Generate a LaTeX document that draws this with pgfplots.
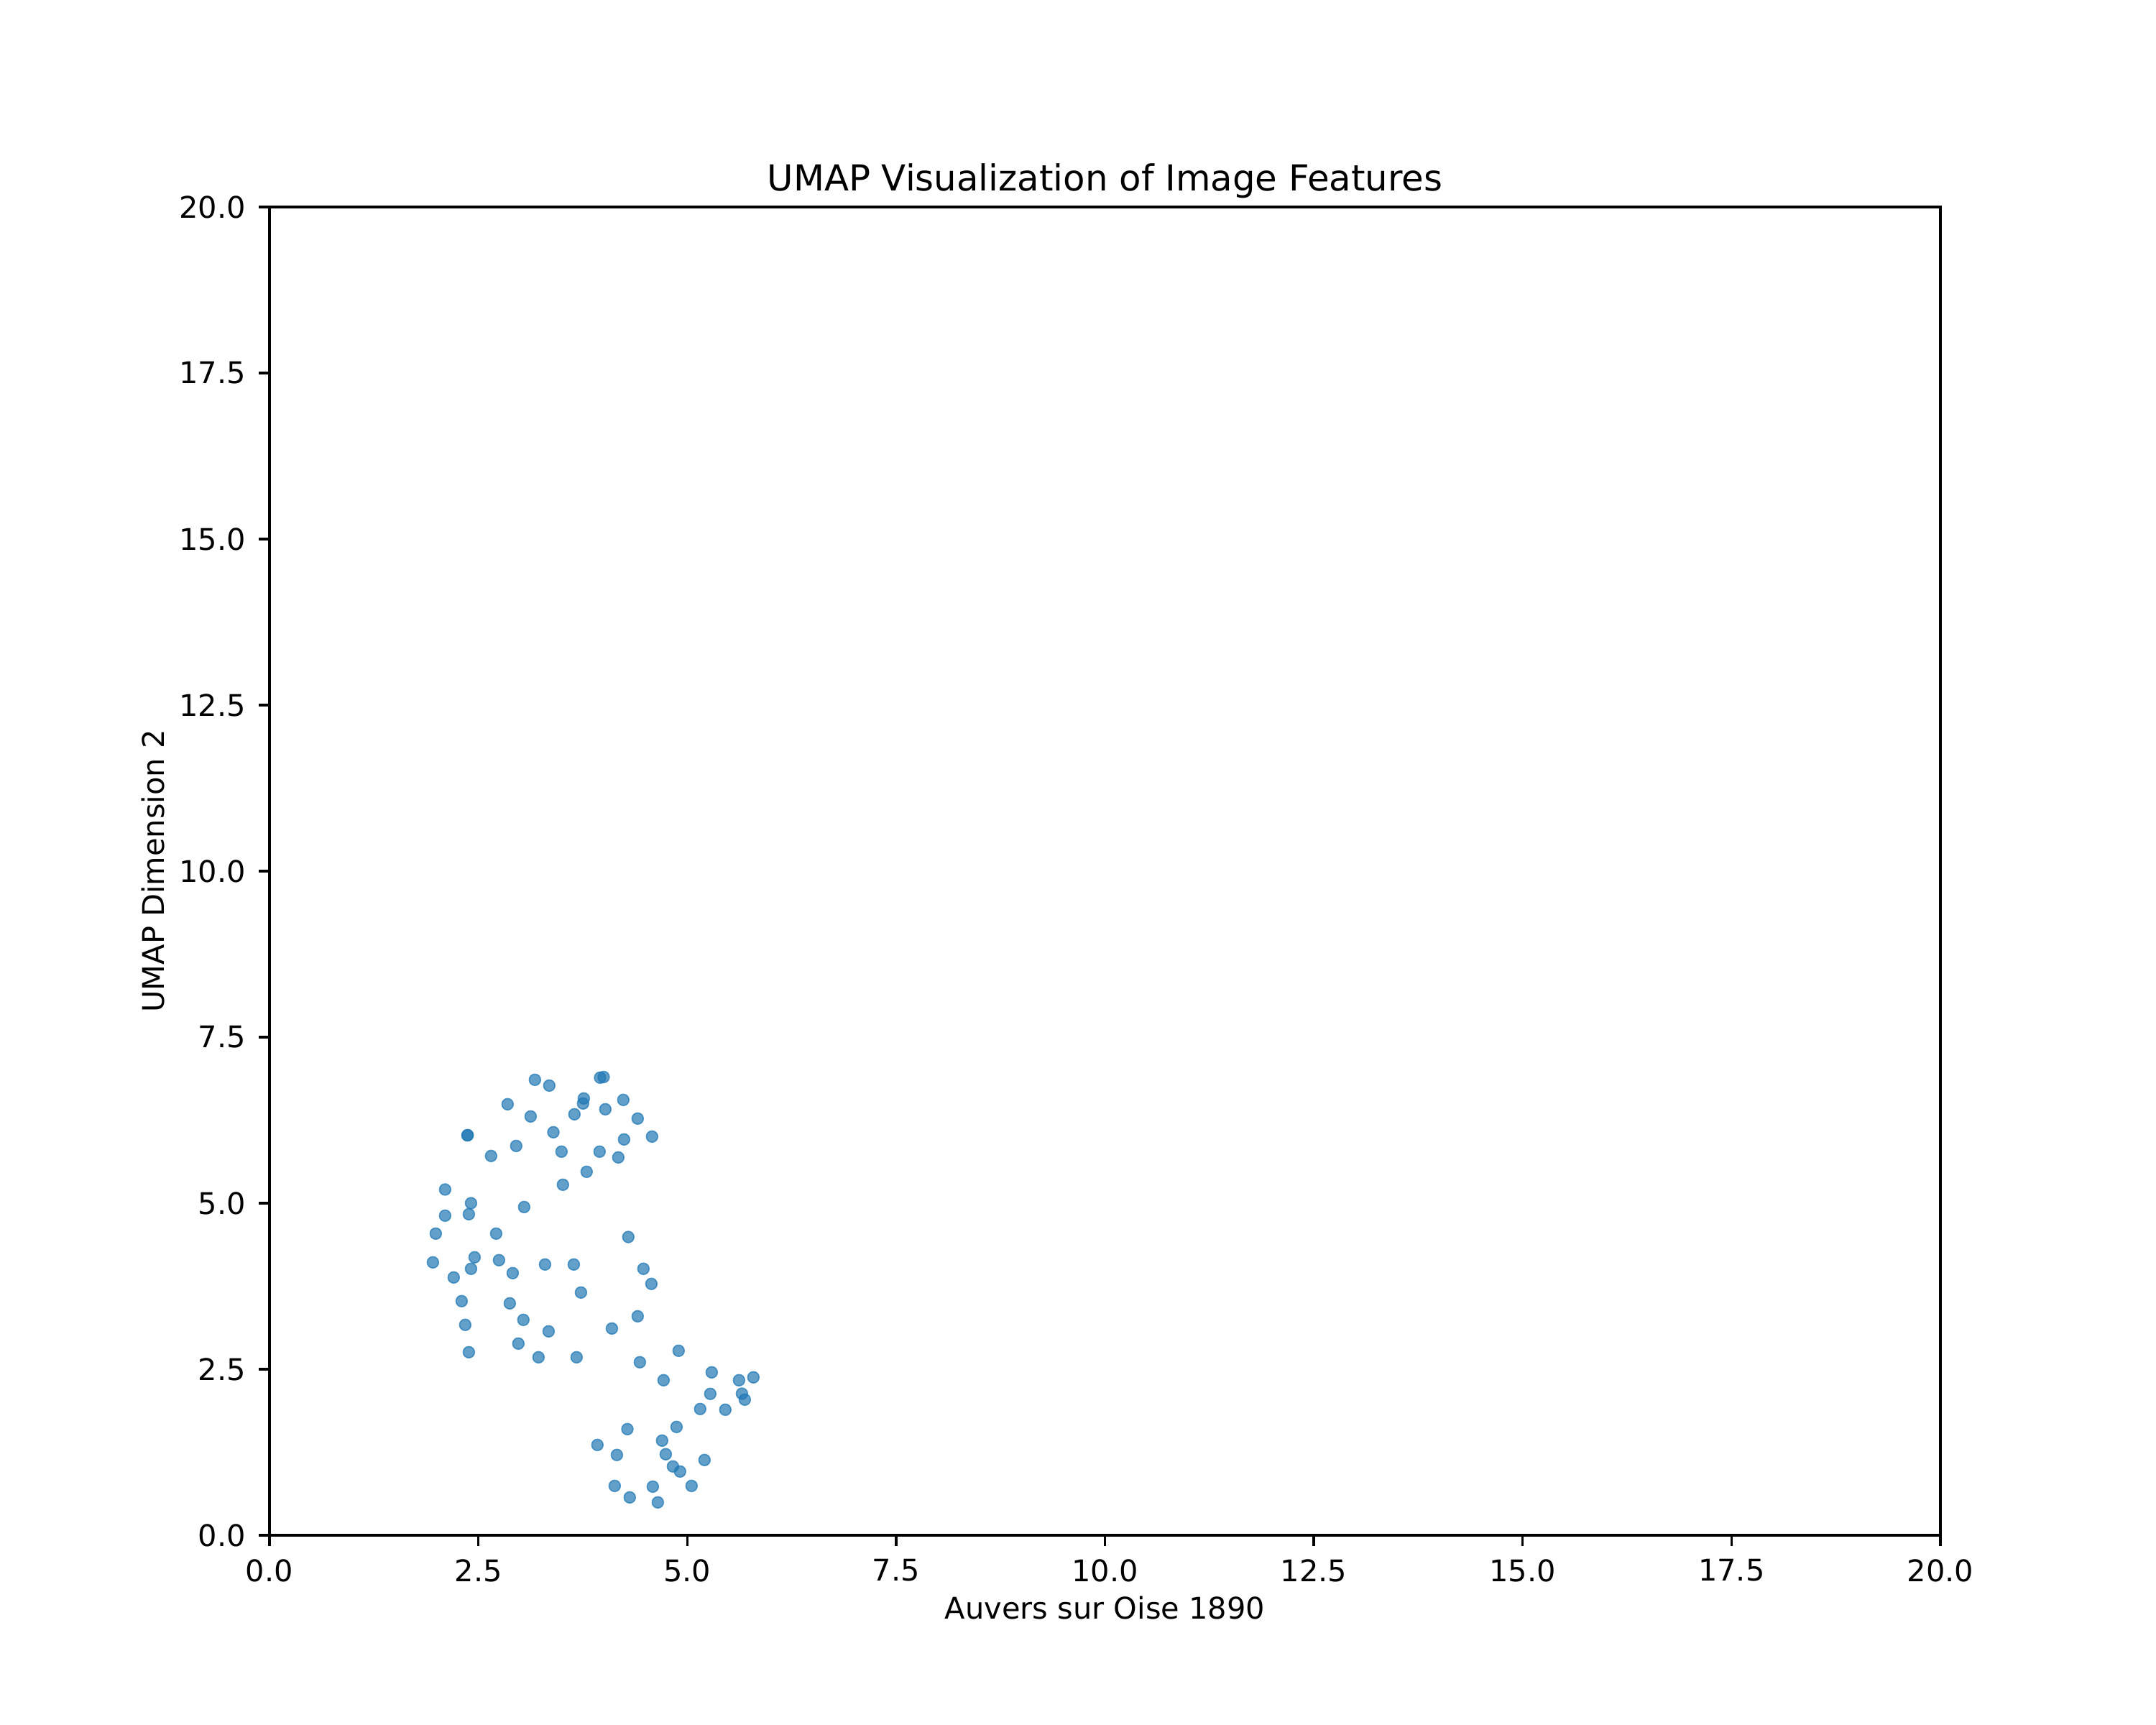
\documentclass[border=0pt]{standalone}
\usepackage{fontspec}
\setmainfont{DejaVu Sans}
\usepackage{pgfplots}
\pgfplotsset{compat=1.18}
\definecolor{tabblue}{HTML}{1F77B4}
\begin{document}
\begin{tikzpicture}
\path[use as bounding box] (-1.25in,-0.88in) rectangle (8.75in,7.12in);
\begin{axis}[
  at={(0,0)}, anchor=south west,
  scale only axis, width=7.75in, height=6.16in,
  xmin=0, xmax=20, ymin=0, ymax=20,
  xtick={0,2.5,...,20}, ytick={0,2.5,...,20},
  xtick pos=bottom, ytick pos=left,
  tick align=outside, major tick length=3.5pt,
  every tick/.style={line width=0.8pt, black},
  axis line style={line width=0.8pt},
  /pgf/number format/assume math mode=true,
  /pgf/number format/.cd, fixed, fixed zerofill, precision=1, /pgfplots/.cd,
  tick label style={font=\fontsize{10}{12}\selectfont},
  xticklabel style={yshift=-1pt},
  yticklabel style={xshift=-1pt},
  title={UMAP Visualization of Image Features},
  title style={font=\fontsize{12}{14}\selectfont, yshift=-6.5pt},
  xlabel={Auvers sur Oise 1890},
  ylabel={UMAP Dimension 2},
  label style={font=\fontsize{10}{12}\selectfont},
  xlabel style={yshift=2pt},
  ylabel style={yshift=-2pt},
]
\addplot[only marks, mark=*, mark size=1.9pt,
  mark options={draw=tabblue, fill=tabblue, draw opacity=0.7, fill opacity=0.7, line width=0.4pt}]
coordinates {
(3.177,6.858) (3.349,6.771) (3.957,6.890) (4.000,6.900) (2.850,6.490)
(3.762,6.577) (3.753,6.501) (4.235,6.555) (3.126,6.306) (3.650,6.339)
(4.020,6.414) (4.407,6.274) (2.369,6.021) (2.372,6.025) (3.398,6.068)
(4.579,6.003) (4.244,5.960) (2.953,5.862) (2.652,5.711) (3.495,5.776)
(3.951,5.776) (4.175,5.689) (3.796,5.473) (3.512,5.278) (2.102,5.206)
(2.412,5.000) (3.048,4.942) (2.102,4.812) (2.386,4.834) (1.990,4.542)
(2.713,4.542) (4.295,4.491) (1.956,4.109) (2.455,4.185) (2.747,4.142)
(3.298,4.077) (3.642,4.077) (2.412,4.012) (2.911,3.947) (2.205,3.882)
(4.476,4.012) (4.571,3.785) (3.728,3.655) (2.300,3.525) (2.876,3.492)
(2.343,3.168) (3.039,3.243) (3.341,3.070) (4.407,3.297) (4.098,3.113)
(2.979,2.886) (2.386,2.756) (3.220,2.680) (3.676,2.680) (4.897,2.778)
(4.433,2.605) (4.717,2.334) (5.293,2.453) (5.620,2.334) (5.792,2.378)
(5.276,2.129) (5.655,2.132) (5.689,2.042) (5.155,1.901) (5.456,1.890)
(4.284,1.598) (4.872,1.631) (3.925,1.360) (4.699,1.425) (4.158,1.209)
(4.743,1.220) (5.207,1.133) (4.829,1.036) (4.914,0.960) (4.132,0.743)
(4.588,0.732) (5.052,0.743) (4.312,0.570) (4.648,0.495)
};
\end{axis}
\end{tikzpicture}
\end{document}
